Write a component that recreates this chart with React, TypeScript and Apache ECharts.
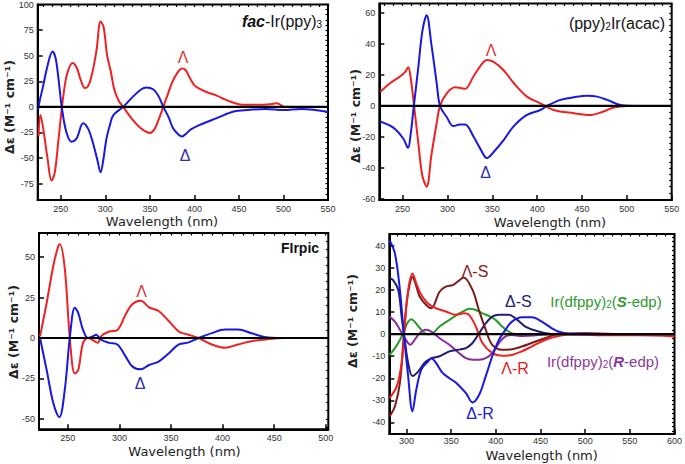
import React, { useEffect, useRef } from "react";
import * as echarts from "echarts";

// ---------- Panel 1: fac-Ir(ppy)3 ----------
const P1_LAMBDA_NM = [225, 227, 230, 235, 239.5, 243, 247, 250, 253, 257, 263, 268, 272, 277, 281, 285, 290, 294.6, 298, 302, 306, 310, 315, 320, 330, 340, 350, 355, 360, 365, 370, 375, 380, 386, 390, 395, 400, 406, 415, 425, 435, 444, 455, 470, 485, 492, 500];
const P1_LAMBDA_CD = [-29, -8, -20, -50, -72, -65, -35, -10, 12, 32, 42.8, 38, 27, 18.3, 21, 32, 55, 83.5, 78, 50, 35, 17, 6, 0, -12, -21, -25.5, -22, -12, 0, 12, 24, 32, 37.5, 36, 28, 21, 17.6, 14, 11, 7, 4, 2, 2, 2.5, 3.6, 0];
const P1_DELTA_NM = [224.5, 226, 230, 235, 240.6, 244, 247, 251, 256, 262, 267.6, 275, 281, 286, 291, 294.6, 298, 301, 305, 309, 320, 331, 340, 346, 354, 360, 365, 371, 376, 382, 386, 391, 396, 406, 425, 444, 460, 480, 500, 520, 535, 550];
const P1_DELTA_CD = [-3, 5, 20, 40, 54, 48, 30, 0, -24, -34, -31, -16, -22, -35, -52, -64, -50, -32, -18, -8, 0, 10, 17, 19, 17, 10, 0, -10, -21, -27, -29, -26, -22, -17.6, -11, -4.6, -3, -2, -3, -2, -3, -5];
const P1_X_TICKS = [250, 300, 350, 400, 450, 500, 550];
const P1_Y_TICKS = [-75, -50, -25, 0, 25, 50, 75, 100];

// ---------- Panel 2: (ppy)2Ir(acac) ----------
const P2_LAMBDA_NM = [225, 236, 247, 253, 256.3, 259, 262, 267.5, 272, 276.8, 282, 288, 291.7, 299, 308.5, 315, 319.7, 329, 337, 344, 351, 362.6, 374, 388.6, 403.6, 418.5, 441, 459.5, 474, 485.5, 500, 525, 550];
const P2_LAMBDA_CD = [9, 14.6, 19, 22, 25, 18, 4, -24, -45, -52, -32, -11, 0, 8, 12, 11.5, 11, 19, 26, 29.6, 28.5, 23, 14.6, 6, 1.7, -2.6, -4.7, -5.8, -3.6, -1, 0, 0, 0];
const P2_DELTA_NM = [225, 239.6, 250.7, 256, 259, 262, 267.5, 272, 276.8, 282, 288, 291.7, 299, 306.7, 314, 319.7, 329, 337, 344, 351, 362.6, 374, 388.6, 403.6, 411, 426, 441, 455.7, 467, 478, 493, 510, 530, 550];
const P2_DELTA_CD = [-10, -14, -21, -27, -18, -2.6, 25, 48, 58.5, 40, 14.6, 0, -7, -13, -12, -12, -19.7, -28, -33.6, -30, -22, -13, -5.8, -2.6, 0, 3.9, 5.6, 6.6, 6, 3.9, 0.6, 0, 0, 0];
const P2_X_TICKS = [250, 300, 350, 400, 450, 500, 550];
const P2_Y_TICKS = [-60, -40, -20, 0, 20, 40, 60];

// ---------- Panel 3: FIrpic ----------
const P3_LAMBDA_NM = [223, 229.5, 236, 240.7, 242.3, 247, 252, 256.7, 260, 264.7, 269.5, 276, 279, 282, 290, 298, 306, 312.7, 320.7, 328.7, 338, 348, 357.6, 367, 376.8, 389.6, 402.4, 415, 428, 440.8, 460, 480, 502];
const P3_LAMBDA_CD = [1, 22, 45, 57, 58, 43, -1, -22, -20, -3, 0, -2, -3, 1, 4, 5, 14.6, 21, 23, 19, 16.7, 10.4, 4, 2, 0, -4, -6, -4, -2, -1, 0, 0, 0];
const P3_DELTA_NM = [223, 229.5, 236, 241.7, 247, 252, 256.7, 260, 264.7, 269.5, 274, 277.5, 282, 290, 298, 306, 312.7, 320.7, 328.7, 338, 348, 357.6, 367, 376.8, 389.6, 402.4, 415, 428, 440.8, 456.8, 480, 502];
const P3_DELTA_CD = [0, -20, -40.6, -49, -32, 1, 18.7, 15.6, 5, 0, 1, 2, -1, -3, -4, -11.5, -17.7, -19.4, -16.7, -14.6, -9.4, -4, -2.7, 0, 3, 5.2, 5.2, 3, 0.6, 0, 0, 0];
const P3_X_TICKS = [250, 300, 350, 400, 450, 500];
const P3_Y_TICKS = [-50, -25, 0, 25, 50];

// ---------- Panel 4: Ir(dfppy)2(edp) ----------
const P4_DR_NM = [281, 287, 292.6, 297, 301.8, 306.6, 311, 316.6, 324, 327.7, 333, 340.6, 348, 355.4, 366.5, 373.9, 381.3, 388.7, 396, 403.4, 410.8, 418, 429.3, 440.4, 451.5, 462.5, 470, 485, 520, 560, 600];
const P4_DR_CD = [42.7, 36.7, 20, 0, -19, -35, -25, -16, -12.4, -10.9, -13, -17.7, -20, -22, -26.7, -31, -27.5, -19, -10, -2.6, 2, 5.7, 7.7, 7.7, 5.7, 2.7, 1.2, 0, 0, 0, 0];
const P4_DS_NM = [281, 285, 290.8, 294.5, 298, 301.8, 306.6, 313, 320, 327.7, 337, 348, 359, 366.5, 373.9, 381.3, 388.7, 396, 403.4, 414.5, 422, 433, 447.8, 466, 500, 550, 600];
const P4_DS_CD = [25.4, 24.6, 20, 8, -2.6, -13, -19, -17, -13, -11, -10, -7.8, -7, -6.3, -4, 0.5, 5, 8, 8.8, 8.8, 7.2, 3.5, 1.2, 0, 0, 0, 0];
const P4_LS_NM = [281, 287, 292.6, 297, 300, 303.7, 306.6, 310, 314.8, 322, 327.7, 337, 344, 351.7, 357, 364, 374, 381, 388.7, 396, 407, 418, 429, 440, 455, 470, 520, 600];
const P4_LS_CD = [-37.3, -32.7, -22, 0, 14, 23, 26, 23, 17, 13.3, 11.8, 19.3, 21.6, 22.3, 23.8, 25.8, 20, 11, 2, -4.8, -7, -6.8, -5.6, -4, -1.8, 0, 0, 0];
const P4_LR_NM = [281, 289, 294.5, 298, 301.8, 306.6, 311, 316.6, 324, 333, 344, 355.4, 364.6, 370, 377.6, 385, 396, 407, 418, 429, 440, 455, 470, 485, 520, 560, 600];
const P4_LR_CD = [-29, -23.7, -13, 3.5, 20, 27.6, 23, 17.8, 14, 11.8, 10.3, 8.8, 9.5, 8.8, 3.5, -4, -8.6, -9.8, -9.4, -7.8, -5.6, -2.6, -0.8, 0, -0.5, -0.5, -1];
const P4_SEDP_NM = [281, 287, 292.6, 297, 301.8, 305.5, 309, 316.6, 324, 329.5, 337, 348, 359, 366.5, 370, 377.6, 385, 392, 399.7, 407, 414.5, 422, 440, 470];
const P4_SEDP_CD = [-9.4, -6.3, -2.6, 1.2, 5.7, 6.8, 5.7, 2, 0, 0.5, 3.5, 6.5, 9.5, 11, 11.6, 11, 9.5, 8.3, 6.5, 3.5, 1.2, 0, 0, 0];
const P4_REDP_NM = [281, 287, 292.6, 298, 304.4, 309, 314.8, 321.4, 327.7, 337, 348, 359, 366.5, 373.9, 381.3, 388.7, 396, 403.4, 410.8, 418, 429, 460, 500, 550, 600];
const P4_REDP_CD = [8, 5.7, 2, -1.8, -4.8, -2.6, 0.5, 2, 1.2, -1.8, -4.8, -8.6, -10.9, -11.6, -11.6, -10.9, -8.6, -4, -1, -0.3, -0.8, 0, 0.5, 0, 0];
const P4_X_TICKS = [300, 350, 400, 450, 500, 550, 600];
const P4_Y_TICKS = [-40, -30, -20, -10, 0, 10, 20, 30, 40];

const RED = "#ee2222";
const BLUE = "#1818e0";

const zip = (xs: number[], ys: number[]) => xs.map((x, i) => [x, ys[i]]);
const minorTicks = (min: number, max: number, step: number) => {
  const out: number[] = [];
  for (let v = Math.ceil(min / step) * step; v <= max + 1e-9; v += step) out.push(Math.round(v * 1000) / 1000);
  return out;
};

const panels = [
  {
    grid: { left: 37.7, top: 4.5, width: 290.3, height: 195.5 },
    x: [224, 550], xTicks: P1_X_TICKS, xMinor: 10, xMargin: 4,
    y: [-91, 100], yTicks: P1_Y_TICKS, yMinor: 5,
    series: [
      { nm: P1_LAMBDA_NM, cd: P1_LAMBDA_CD, color: RED },
      { nm: P1_DELTA_NM, cd: P1_DELTA_CD, color: BLUE },
    ],
  },
  {
    grid: { left: 379.3, top: 3.5, width: 292.4, height: 196.5 },
    x: [224, 550], xTicks: P2_X_TICKS, xMinor: 10, xMargin: 4,
    y: [-60.6, 66], yTicks: P2_Y_TICKS, yMinor: 4,
    series: [
      { nm: P2_LAMBDA_NM, cd: P2_LAMBDA_CD, color: RED },
      { nm: P2_DELTA_NM, cd: P2_DELTA_CD, color: BLUE },
    ],
  },
  {
    grid: { left: 39, top: 233, width: 289.3, height: 196.3 },
    x: [222, 502.5], xTicks: P3_X_TICKS, xMinor: 10, xMargin: 4,
    y: [-56.5, 65], yTicks: P3_Y_TICKS, yMinor: 5,
    series: [
      { nm: P3_LAMBDA_NM, cd: P3_LAMBDA_CD, color: RED },
      { nm: P3_DELTA_NM, cd: P3_DELTA_CD, color: BLUE },
    ],
  },
  {
    grid: { left: 389.3, top: 234, width: 287.4, height: 200 },
    x: [280.7, 600], xTicks: P4_X_TICKS, xMinor: 10, xMargin: 2,
    y: [-45.3, 45.5], yTicks: P4_Y_TICKS, yMinor: 2,
    series: [
      { nm: P4_SEDP_NM, cd: P4_SEDP_CD, color: "#2a9a2a" },
      { nm: P4_REDP_NM, cd: P4_REDP_CD, color: "#8a2a9c" },
      { nm: P4_DS_NM, cd: P4_DS_CD, color: "#1e1e6e" },
      { nm: P4_LS_NM, cd: P4_LS_CD, color: "#7a1c1c" },
      { nm: P4_LR_NM, cd: P4_LR_CD, color: RED },
      { nm: P4_DR_NM, cd: P4_DR_CD, color: BLUE },
    ],
  },
];

const labelFont = { fontFamily: "Liberation Sans, Arial, sans-serif", fontSize: 9, color: "#333" };

function buildOption() {
  const grid: any[] = [];
  const xAxis: any[] = [];
  const yAxis: any[] = [];
  const series: any[] = [];
  panels.forEach((p, i) => {
    grid.push({ ...p.grid, show: true, borderColor: "#000", borderWidth: 2, backgroundColor: "transparent" });
    xAxis.push({
      type: "value", gridIndex: i, min: p.x[0], max: p.x[1],
      axisLine: { show: true, onZero: false, lineStyle: { color: "#000", width: 2 } },
      axisTick: { show: true, inside: true, length: 5, customValues: p.xTicks, lineStyle: { color: "#000", width: 1.5 } },
      axisLabel: { show: true, customValues: p.xTicks, margin: p.xMargin, ...labelFont },
      splitLine: { show: false },
    });
    xAxis.push({
      type: "value", gridIndex: i, min: p.x[0], max: p.x[1],
      axisLine: { show: false, onZero: false },
      axisTick: { show: true, inside: true, length: 2.5, customValues: minorTicks(p.x[0], p.x[1], p.xMinor), lineStyle: { color: "#000", width: 1.2 } },
      axisLabel: { show: false },
      splitLine: { show: false },
    });
    yAxis.push({
      type: "value", gridIndex: i, min: p.y[0], max: p.y[1],
      axisLine: { show: true, onZero: false, lineStyle: { color: "#000", width: 2 } },
      axisTick: { show: true, inside: true, length: 5, customValues: p.yTicks, lineStyle: { color: "#000", width: 1.5 } },
      axisLabel: { show: true, customValues: p.yTicks, margin: 4, ...labelFont },
      splitLine: { show: false },
    });
    yAxis.push({
      type: "value", gridIndex: i, min: p.y[0], max: p.y[1],
      axisLine: { show: false, onZero: false },
      axisTick: { show: true, inside: true, length: 2.5, customValues: minorTicks(p.y[0], p.y[1], p.yMinor), lineStyle: { color: "#000", width: 1.2 } },
      axisLabel: { show: false },
      splitLine: { show: false },
    });
    p.series.forEach((s) => {
      series.push({
        type: "line", xAxisIndex: 2 * i, yAxisIndex: 2 * i, data: zip(s.nm, s.cd),
        showSymbol: false, smooth: 0.35, lineStyle: { color: s.color, width: 2 }, itemStyle: { color: s.color },
        silent: true, z: 2,
      });
    });
    series.push({
      type: "line", xAxisIndex: 2 * i, yAxisIndex: 2 * i, data: [[p.x[0], 0], [p.x[1], 0]],
      showSymbol: false, lineStyle: { color: "#000", width: 2.2 }, silent: true, z: 5,
    });
  });

  const t = (x: number, y: number, text: string, fill: string, fontSize: number, extra: any = {}) => ({
    type: "text", x, y, z: 20, ...extra,
    style: {
      text, fill, fontSize, fontFamily: "Liberation Sans, Arial, sans-serif",
      align: "center", verticalAlign: "middle", textAlign: "center", textVerticalAlign: "middle",
      ...(extra.style || {}),
    },
  });
  const sub = { fontSize: 10, verticalAlign: "bottom", lineHeight: 10 };
  const xTitle = (x: number, y: number) => t(x, y, "Wavelength (nm)", "#222", 13, { style: { fontFamily: "DejaVu Sans, sans-serif" } });
  const yTitle = (x: number, y: number) => ({
    ...t(x, y, "Δε (M⁻¹ cm⁻¹)", "#222", 12.5, { style: { fontFamily: "DejaVu Sans, sans-serif", fontWeight: "bold" } }),
    rotation: Math.PI / 2,
  });

  const graphic = [
    xTitle(162, 221), xTitle(550, 222.5), xTitle(184.5, 451.5), xTitle(541.7, 455),
    yTitle(9.5, 107), yTitle(355, 116), yTitle(13, 332), yTitle(352.5, 321),
    t(282, 21, "{i|fac}-Ir(ppy){s|3}", "#111", 16, { style: { rich: { i: { fontStyle: "italic", fontWeight: "bold", fontSize: 16, fill: "#111" }, s: { ...sub, fill: "#111" } } } }),
    t(183, 57, "Λ", "#dd3333", 16), t(185, 155, "Δ", "#3030b0", 16),
    t(617, 23, "(ppy){s|2}Ir(acac)", "#111", 16, { style: { rich: { s: { ...sub, fill: "#111" } } } }),
    t(491, 50, "Λ", "#dd3333", 16), t(485.7, 172, "Δ", "#3030b0", 16),
    t(300, 248, "FIrpic", "#111", 14, { style: { fontWeight: "bold" } }),
    t(141.7, 291.7, "Λ", "#dd3333", 16), t(140, 383.3, "Δ", "#3030b0", 16),
    t(475, 271.7, "Λ-S", "#8b1a1a", 16), t(518.3, 301, "Δ-S", "#22227a", 16),
    t(606, 301.7, "Ir(dfppy){s|2}({i|S}-edp)", "#2f9a2f", 15, { style: { rich: { s: { ...sub, fill: "#2f9a2f" }, i: { fontStyle: "italic", fontWeight: "bold", fontSize: 15, fill: "#2f9a2f" } } } }),
    t(603, 361.7, "Ir(dfppy){s|2}({i|R}-edp)", "#8b3a9b", 15, { style: { rich: { s: { ...sub, fill: "#8b3a9b" }, i: { fontStyle: "italic", fontWeight: "bold", fontSize: 15, fill: "#8b3a9b" } } } }),
    t(515, 368, "Λ-R", "#e02020", 16), t(480, 413.3, "Δ-R", "#2222cc", 16),
  ];

  return { animation: false, backgroundColor: "#fff", grid, xAxis, yAxis, series, graphic };
}

export default function App() {
  const ref = useRef<HTMLDivElement>(null);
  useEffect(() => {
    const chart = echarts.init(ref.current as HTMLDivElement, null, { renderer: "svg" });
    chart.setOption(buildOption() as any);
    return () => chart.dispose();
  }, []);
  return <div ref={ref} style={{ position: "fixed", left: 0, top: 0, width: 685, height: 464, background: "#fff" }} />;
}
